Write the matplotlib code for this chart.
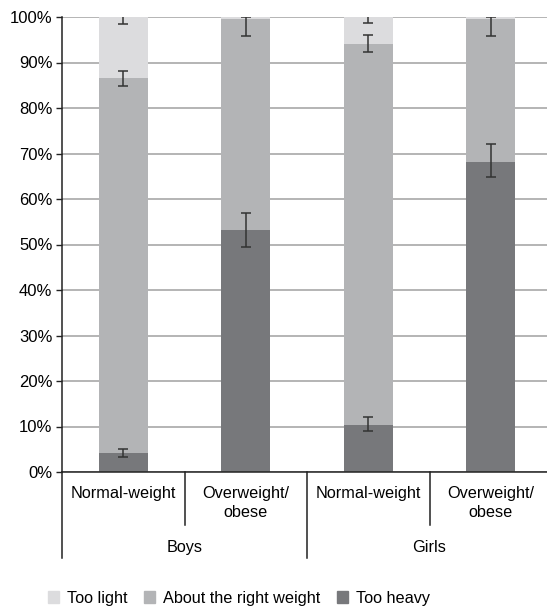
import numpy as np
import matplotlib.pyplot as plt
from matplotlib.patches import Patch
from matplotlib.transforms import blended_transform_factory

plt.rcParams['font.family'] = ['Liberation Sans', 'DejaVu Sans']

# data (percent)
subgroups = ['Normal-weight', 'Overweight/\nobese', 'Normal-weight', 'Overweight/\nobese']
groups = ['Boys', 'Girls']
too_heavy = [4.2, 53.2, 10.3, 68.2]
about_right = [82.3, 46.4, 83.8, 31.4]
too_light = [13.5, 0.4, 5.9, 0.4]

# error bars (lower, upper) around the top of each segment
heavy_err_lo = [0.8, 3.7, 1.2, 3.4]
heavy_err_hi = [0.8, 3.7, 1.7, 3.8]
right_err_lo = [1.7, 3.7, 1.8, 3.7]
right_err_hi = [1.7, 0.4, 1.9, 0.4]
light_err = [1.5, 0.0, 1.3, 0.0]

c_light = '#dcdcde'
c_right = '#b3b4b6'
c_heavy = '#77787b'

fig = plt.figure(figsize=(5.47, 6.07), dpi=100)
ax = fig.add_axes([62/547, 1 - 472/607, 485/547, 455/607])

x = np.arange(len(subgroups))
w = 0.4
too_heavy = np.array(too_heavy)
about_right = np.array(about_right)
too_light = np.array(too_light)

ax.bar(x, too_heavy, w, color=c_heavy, zorder=2)
ax.bar(x, about_right, w, bottom=too_heavy, color=c_right, zorder=2)
ax.bar(x, too_light, w, bottom=too_heavy + about_right, color=c_light, zorder=2)

ekw = dict(fmt='none', ecolor='#333333', elinewidth=1.1, capsize=3.8, capthick=1.1, zorder=3)
ax.errorbar(x, too_heavy, yerr=[heavy_err_lo, heavy_err_hi], **ekw)
ax.errorbar(x, too_heavy + about_right, yerr=[right_err_lo, right_err_hi], **ekw)
# too light error bars sit at the top and get clipped at 100%
for xi, e in zip(x, light_err):
    if e > 0:
        ax.errorbar([xi], [100], yerr=[[e], [e]], **ekw)

ax.set_ylim(0, 100)
ax.set_xlim(-0.5, -0.5 + 485/122.5)
ax.set_yticks(np.arange(0, 101, 10))
ax.set_yticklabels(['%d%%' % v for v in range(0, 101, 10)], fontsize=12)
ax.yaxis.grid(True, color='#a8a8a8', linewidth=1.2, zorder=0)
ax.set_axisbelow(True)
ax.tick_params(axis='y', length=4, width=1, color='#222222', pad=3)
ax.set_xticks([])
for s in ['top', 'right']:
    ax.spines[s].set_visible(False)
ax.spines['left'].set_color('#222222')
ax.spines['bottom'].set_color('#222222')
ax.spines['left'].set_linewidth(1.1)
ax.spines['bottom'].set_linewidth(1.1)

# category labels below the axis
trans = blended_transform_factory(ax.transData, ax.transAxes)
for xi, lab in zip(x, subgroups):
    ax.text(xi, -0.031, lab, transform=trans, ha='center', va='top', fontsize=11.7, linespacing=1.35)
for gi, g in enumerate(groups):
    ax.text(2*gi + 0.5, -0.165, g, transform=trans, ha='center', va='center', fontsize=11.7)

# separators
for xb in [0.5, 2.5]:
    ax.plot([xb, xb], [0, -0.1165], transform=trans, color='#222222', lw=1.1, clip_on=False)
for xb in [-0.5, 1.5]:
    ax.plot([xb, xb], [0, -0.189], transform=trans, color='#222222', lw=1.1, clip_on=False)

handles = [Patch(color=c_light, label='Too light'),
           Patch(color=c_right, label='About the right weight'),
           Patch(color=c_heavy, label='Too heavy')]
fig.legend(handles=handles, loc='center', bbox_to_anchor=(0.437, 1 - 598/607), ncol=3,
           frameon=False, fontsize=11.7, handlelength=0.7, handleheight=0.7,
           handletextpad=0.5, columnspacing=1.0)

fig.savefig('out.png', dpi=100)
